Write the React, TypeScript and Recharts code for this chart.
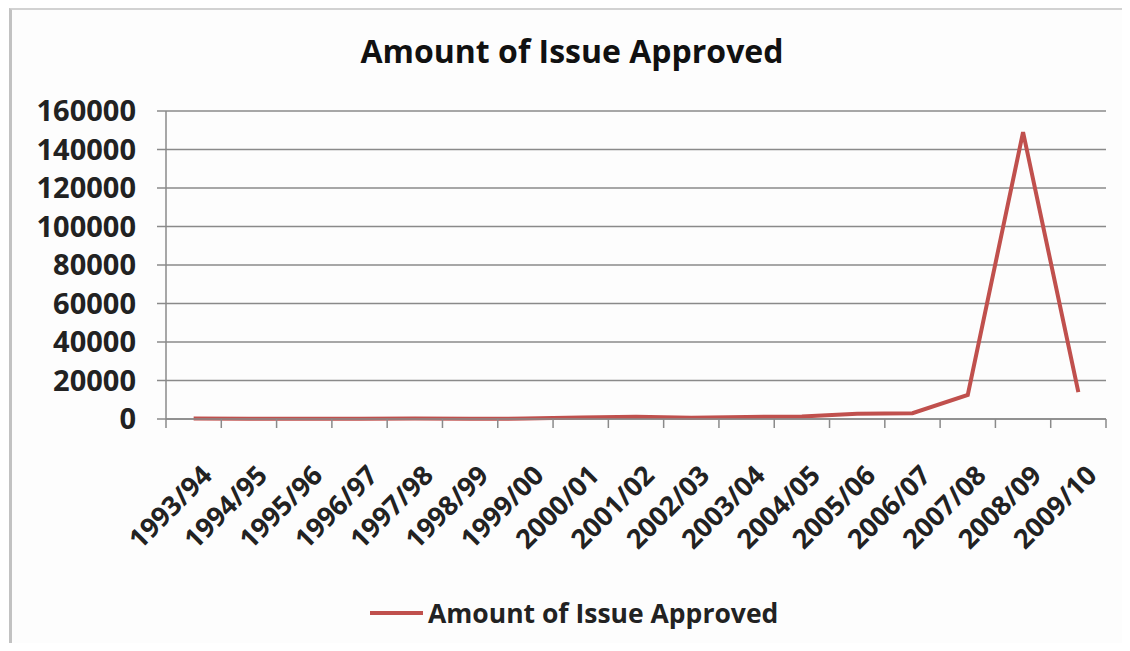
import React from 'react';
import { LineChart, Line, XAxis, YAxis, CartesianGrid, Legend } from 'recharts';

// Fiscal years on the category axis
const years = [
  '1993/94', '1994/95', '1995/96', '1996/97', '1997/98', '1998/99', '1999/00', '2000/01', '2001/02',
  '2002/03', '2003/04', '2004/05', '2005/06', '2006/07', '2007/08', '2008/09', '2009/10',
];

// Amount of issue approved per year
const amounts = [
  200, 150, 100, 150, 200, 150, 200, 800, 1200,
  700, 1100, 1300, 2700, 3000, 12500, 149000, 14000,
];

const yTicks = [0, 20000, 40000, 60000, 80000, 100000, 120000, 140000, 160000];

const seriesName = 'Amount of Issue Approved';

const data = years.map((year, i) => ({ year, amount: amounts[i] }));

const W = 1130;
const H = 651;
const PLOT_LEFT = 166;
const PLOT_RIGHT = 1106;
const FONT = '"Open Sans", sans-serif';
const LINE_COLOR = '#C0504D';
const AXIS_COLOR = '#8a8a8a';

function YearTick(props: any) {
  const { x, y, payload, index } = props;
  const half = payload?.offset || (PLOT_RIGHT - PLOT_LEFT) / years.length / 2;
  const last = index === years.length - 1;
  const tx = x + 20;
  const ty = y + 49;
  return (
    <g>
      <line x1={x - half} x2={x - half} y1={y - 9} y2={y} stroke={AXIS_COLOR} strokeWidth={1.5} />
      {last && <line x1={x + half} x2={x + half} y1={y - 9} y2={y} stroke={AXIS_COLOR} strokeWidth={1.5} />}
      <text
        x={tx}
        y={ty}
        transform={`rotate(-45 ${tx} ${ty})`}
        textAnchor="end"
        fontFamily={FONT}
        fontWeight={700}
        fontSize={27}
        fill="#222"
      >
        {payload.value}
      </text>
    </g>
  );
}

function LegendBox() {
  return (
    <div style={{ display: 'flex', alignItems: 'center', fontFamily: FONT, fontWeight: 700, fontSize: 26.5, color: '#222' }}>
      <span style={{ display: 'inline-block', width: 53, height: 4, background: LINE_COLOR, marginRight: 5 }} />
      <span>{seriesName}</span>
    </div>
  );
}

export default function App() {
  return (
    <div style={{ position: 'relative', width: W, height: H, margin: -8, background: '#fff', overflow: 'hidden' }}>
      <div
        style={{
          position: 'absolute',
          left: 9,
          top: 8,
          width: W - 12,
          height: H,
          borderLeft: '3px solid #c2c2c2',
          borderTop: '2px solid #d2d2d2',
          background: '#fdfdfd',
        }}
      />
      <div
        style={{
          position: 'absolute',
          left: 0,
          width: 1144,
          top: 31,
          textAlign: 'center',
          fontFamily: FONT,
          fontWeight: 700,
          fontSize: 32,
          color: '#111',
          lineHeight: '40px',
        }}
      >
        {seriesName}
      </div>
      <div style={{ position: 'absolute', left: 0, top: 0 }}>
        <LineChart width={W} height={H} data={data} margin={{ top: 111, right: W - PLOT_RIGHT, bottom: 0, left: 0 }}>
          <CartesianGrid horizontal vertical={false} stroke={AXIS_COLOR} strokeWidth={1.5} />
          <XAxis
            dataKey="year"
            scale="band"
            height={H - 419}
            axisLine={{ stroke: AXIS_COLOR, strokeWidth: 1.5 }}
            tickLine={false}
            tickSize={9}
            tickMargin={0}
            interval={0}
            tick={<YearTick />}
          />
          <YAxis
            width={PLOT_LEFT}
            domain={[0, 160000]}
            ticks={yTicks}
            interval={0}
            axisLine={{ stroke: AXIS_COLOR, strokeWidth: 1.5 }}
            tickLine={{ stroke: AXIS_COLOR, strokeWidth: 1.5 }}
            tickSize={9}
            tickMargin={21}
            tick={{ fontFamily: FONT, fontWeight: 700, fontSize: 29, fill: '#222' }}
          />
          <Legend
            verticalAlign="middle"
            align="center"
            content={<LegendBox />}
            wrapperStyle={{ top: 595, left: 370, width: 'auto' }}
          />
          <Line
            type="linear"
            dataKey="amount"
            name={seriesName}
            stroke={LINE_COLOR}
            strokeWidth={4}
            dot={false}
            isAnimationActive={false}
          />
        </LineChart>
      </div>
    </div>
  );
}
